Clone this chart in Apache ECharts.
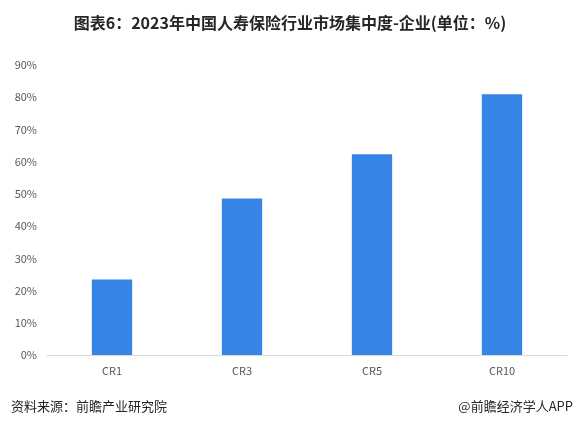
<!DOCTYPE html>
<html>
<head>
<meta charset="utf-8">
<script src="https://cdn.jsdelivr.net/npm/echarts@6/dist/echarts.min.js"></script>
<style>
  html, body { margin: 0; padding: 0; background: #fff; }
  #chart { width: 580px; height: 426px; }
</style>
</head>
<body>
<div id="chart"></div>
<script>
// Concentration ratios of the life insurance market, 2023
const categories = ['CR1', 'CR3', 'CR5', 'CR10'];
const shareValues = [23.4, 48.6, 62.3, 80.9];
const titleText = '图表6：2023年中国人寿保险行业市场集中度-企业(单位：%)';
const sourceText = '资料来源：前瞻产业研究院';
const creditText = '@前瞻经济学人APP';

const chart = echarts.init(document.getElementById('chart'));
const font = '"Noto Sans CJK SC", "Noto Sans", sans-serif';

chart.setOption({
  animation: false,
  textStyle: { fontFamily: font },
  title: [
    {
      text: titleText,
      left: 'center',
      top: 10,
      textStyle: { fontSize: 16, fontWeight: 'bold', color: '#262626', fontFamily: font }
    },
    {
      text: sourceText,
      left: 6,
      top: 395,
      textStyle: { fontSize: 13, fontWeight: 'normal', color: '#262626', fontFamily: font }
    },
    {
      text: creditText,
      right: 2,
      top: 395,
      textStyle: { fontSize: 13, fontWeight: 'normal', color: '#262626', fontFamily: font }
    }
  ],
  grid: { left: 47, right: 13, top: 65, bottom: 71 },
  xAxis: {
    type: 'category',
    data: categories,
    axisLine: { lineStyle: { color: '#d9d9d9', width: 1 } },
    axisTick: { show: false },
    axisLabel: { color: '#595959', fontSize: 11, margin: 10 }
  },
  yAxis: {
    type: 'value',
    min: 0,
    max: 90,
    interval: 10,
    axisLine: { show: false },
    axisTick: { show: false },
    splitLine: { show: false },
    axisLabel: { color: '#595959', fontSize: 11, margin: 10, formatter: '{value}%' }
  },
  series: [{
    type: 'bar',
    data: shareValues,
    barWidth: '31%',
    itemStyle: { color: '#3584E6' }
  }]
});
</script>
</body>
</html>
